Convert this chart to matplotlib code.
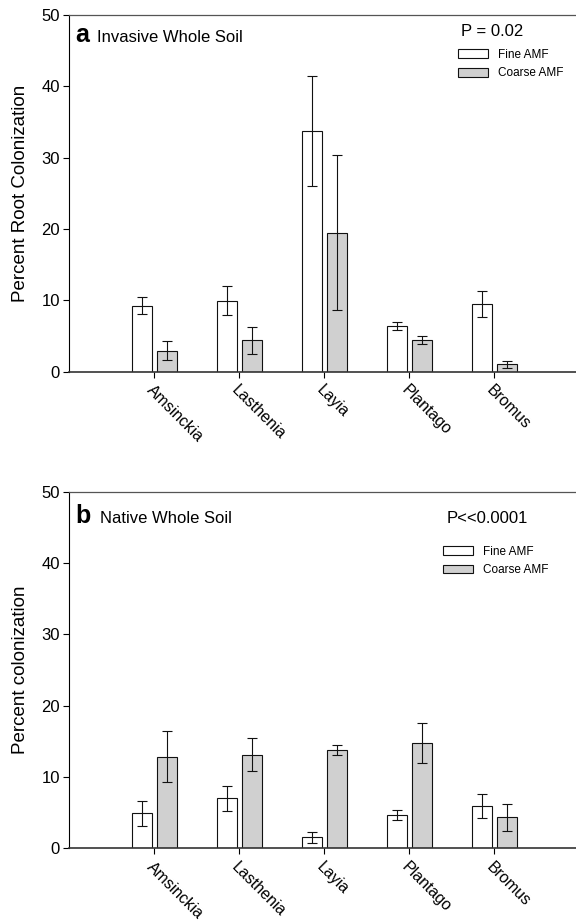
import numpy as np
import matplotlib
matplotlib.use("Agg")
import matplotlib.pyplot as plt
from matplotlib.transforms import ScaledTranslation

plt.rcParams['font.family'] = ['Liberation Sans', 'DejaVu Sans']

species = ['Amsinckia', 'Lasthenia', 'Layia', 'Plantago', 'Bromus']

# panel a: invasive whole soil
inv_fine = [9.25, 9.95, 33.8, 6.4, 9.5]
inv_fine_err = [1.2, 2.0, 7.7, 0.56, 1.85]
inv_coarse = [2.95, 4.4, 19.5, 4.45, 1.05]
inv_coarse_err = [1.3, 1.85, 10.9, 0.62, 0.47]

# panel b: native whole soil
nat_fine = [4.9, 7.0, 1.55, 4.7, 5.95]
nat_fine_err = [1.8, 1.8, 0.75, 0.7, 1.73]
nat_coarse = [12.85, 13.15, 13.75, 14.75, 4.35]
nat_coarse_err = [3.55, 2.27, 0.72, 2.8, 1.93]

fig = plt.figure(figsize=(5.76, 9.21), dpi=100)
ax_a = fig.add_axes([0.1203, 0.5964, 0.8797, 0.3873])
ax_b = fig.add_axes([0.1203, 0.0789, 0.8797, 0.3873])

x = np.arange(len(species))
w = 0.238
off = 0.149


def draw(ax, fine, fine_err, coarse, coarse_err, ylabel, letter, title,
         tx, ty, ptext, px, py, lx, ly):
    ekw = dict(ecolor='#111111', elinewidth=0.8, capsize=3.8, capthick=0.8)
    ax.bar(x - off, fine, w, yerr=fine_err, color='white', edgecolor='#111111',
           linewidth=0.8, error_kw=ekw, label='Fine AMF')
    ax.bar(x + off, coarse, w, yerr=coarse_err, color='#d0d0d0', edgecolor='#111111',
           linewidth=0.8, error_kw=ekw, label='Coarse AMF')
    ax.set_xlim(-1.0, 4.96)
    ax.set_ylim(0, 50)
    ax.set_yticks([0, 10, 20, 30, 40, 50])
    ax.set_xticks(x)
    ax.set_xticklabels(species, rotation=-45, ha='left', va='top',
                       rotation_mode='anchor', fontsize=11.5)
    shift = ScaledTranslation(5 / 100, 0, fig.dpi_scale_trans)
    for lab in ax.get_xticklabels():
        lab.set_transform(lab.get_transform() + shift)
    ax.tick_params(axis='y', labelsize=12, length=4.3, width=0.8, pad=2.4)
    ax.tick_params(axis='x', length=4.3, width=0.8, pad=3.5)
    ax.spines['right'].set_visible(False)
    ax.spines['left'].set_linewidth(0.8)
    ax.spines['top'].set_linewidth(0.9)
    ax.spines['top'].set_color('#555555')
    ax.spines['bottom'].set_linewidth(1.2)
    ax.spines['bottom'].set_color('#333333')
    ax.set_ylabel(ylabel, fontsize=13.5)
    ax.yaxis.set_label_coords(-0.0795, 0.5)
    ax.text(0.0125, ty, letter, transform=ax.transAxes, fontsize=18,
            fontweight='bold', va='baseline', ha='left')
    ax.text(tx, ty, title, transform=ax.transAxes, fontsize=12,
            va='baseline', ha='left')
    ax.text(px, py, ptext, transform=ax.transAxes, fontsize=12,
            va='baseline', ha='left')
    ax.legend(loc='upper left', bbox_to_anchor=(lx, ly), frameon=False,
              fontsize=8.5, handlelength=2.54, handleheight=0.76,
              handletextpad=0.8, labelspacing=0.54, borderpad=0,
              borderaxespad=0)


draw(ax_a, inv_fine, inv_fine_err, inv_coarse, inv_coarse_err,
     'Percent Root Colonization', 'a', 'Invasive Whole Soil', 0.0545, 0.925,
     'P = 0.02', 0.7727, 0.941, 0.768, 0.905)
draw(ax_b, nat_fine, nat_fine_err, nat_coarse, nat_coarse_err,
     'Percent colonization', 'b', 'Native Whole Soil', 0.0606, 0.913,
     'P<<0.0001', 0.745, 0.912, 0.738, 0.848)

fig.savefig('out.png', dpi=100)
